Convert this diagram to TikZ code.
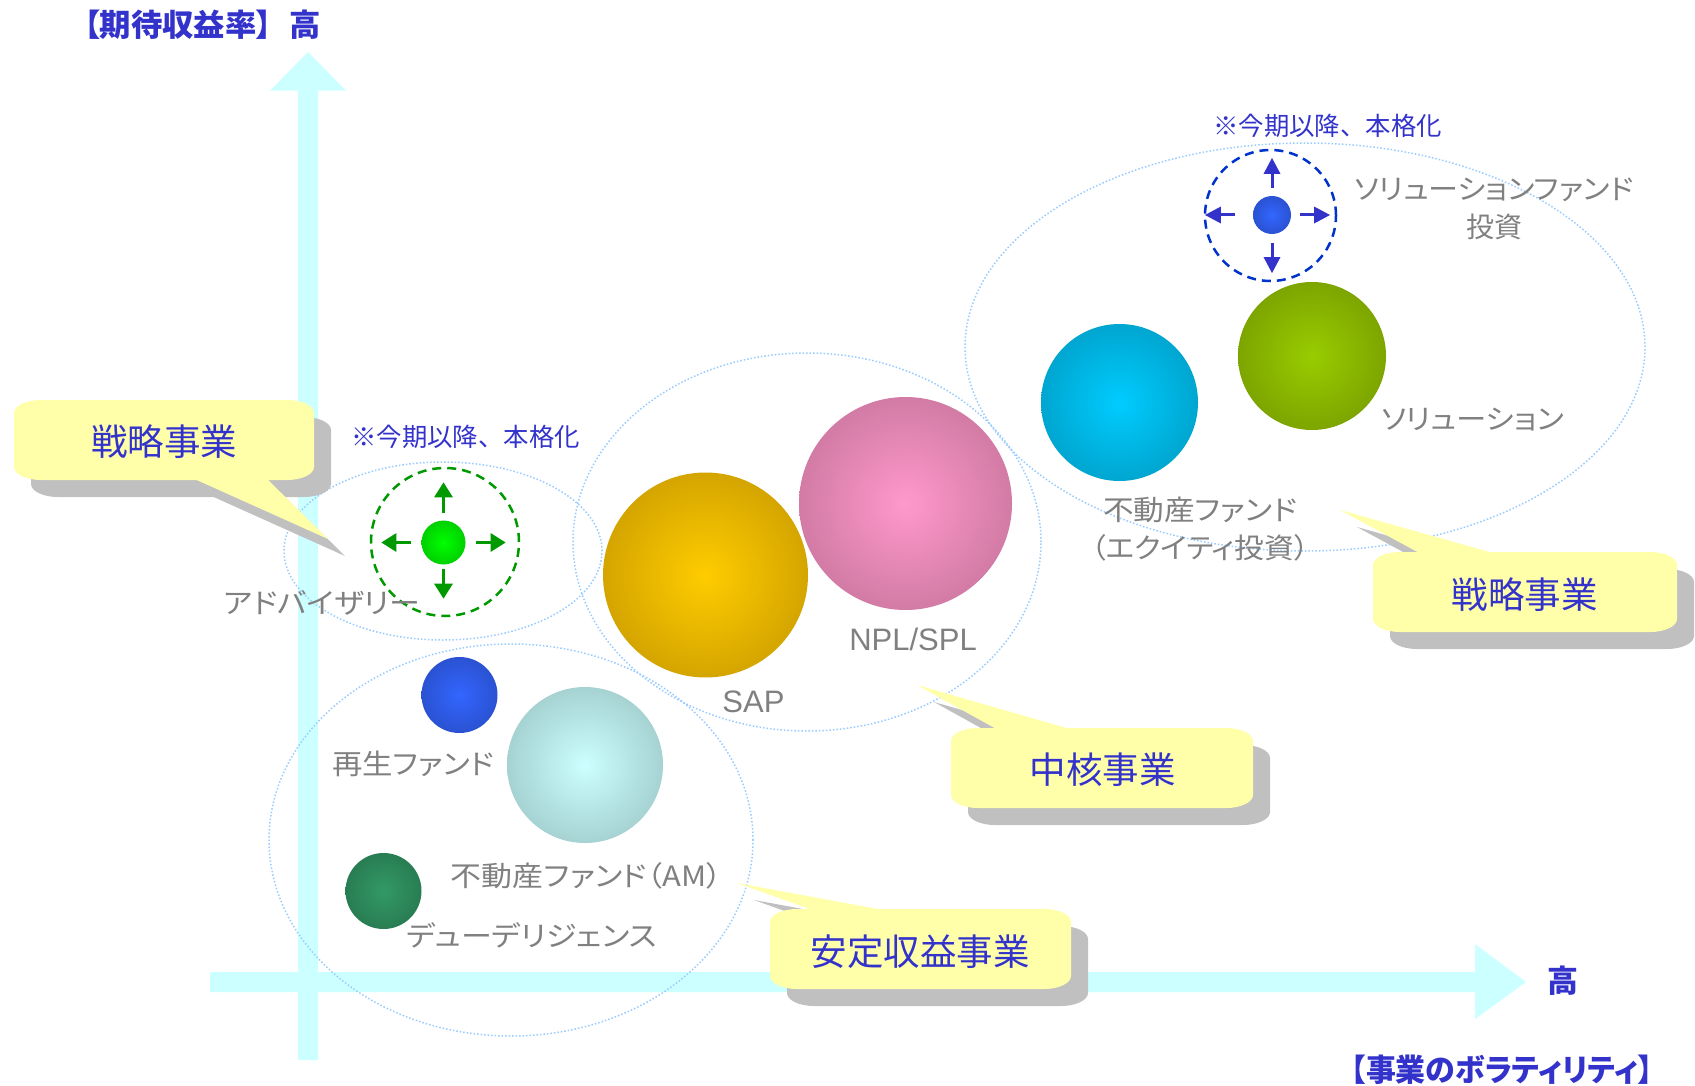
\documentclass[tikz,border=0pt]{standalone}
\usepackage{fontspec}
\usepackage{graphicx}
\usetikzlibrary{arrows.meta}
\newfontfamily\jp{Noto Sans CJK JP}
\newfontfamily\jpp[RawFeature=+palt]{Noto Sans CJK JP}
\newfontfamily\arl{Liberation Sans}
\newcommand\fitto[2]{\resizebox{#1}{\height}{#2}}
\definecolor{axisc}{HTML}{CCFFFF}
\definecolor{dotc}{HTML}{99CCFF}
\definecolor{navy}{HTML}{3333CC}
\definecolor{labgray}{HTML}{808080}
\definecolor{cofill}{HTML}{FFFFAA}
\definecolor{shadowc}{HTML}{C0C0C0}
\definecolor{grn}{HTML}{009900}
\definecolor{dblue}{HTML}{0033CC}
\definecolor{goldin}{HTML}{FFCC00}\definecolor{goldout}{HTML}{D4A500}
\definecolor{pinkin}{HTML}{FF99CC}\definecolor{pinkout}{HTML}{D27BA5}
\definecolor{cyanin}{HTML}{00CCFF}\definecolor{cyanout}{HTML}{00A6D0}
\definecolor{olivein}{HTML}{99CC00}\definecolor{oliveout}{HTML}{7DA500}
\definecolor{palein}{HTML}{CCFFFF}\definecolor{paleout}{HTML}{A6D2D2}
\definecolor{bluein}{HTML}{3366FF}\definecolor{blueout}{HTML}{2A52D2}
\definecolor{dgrnin}{HTML}{339966}\definecolor{dgrnout}{HTML}{287D52}
\definecolor{grnin}{HTML}{00FF00}\definecolor{grnout}{HTML}{00D000}
\newcommand\coshape[8]{%
  \fill[#8] (#1+27,#2) -- (#3-27,#2) arc[start angle=90,end angle=0,x radius=27pt,y radius=13pt]
    -- (#3,#4-13) arc[start angle=0,end angle=-90,x radius=27pt,y radius=13pt]
    -- (#1+27,#4) arc[start angle=-90,end angle=-180,x radius=27pt,y radius=13pt]
    -- (#1,#2+13) arc[start angle=180,end angle=90,x radius=27pt,y radius=13pt] -- cycle;
  \fill[#8] (#5) -- (#7) -- (#6) -- cycle;
}
\newcommand\callout[7]{%
  \begin{scope}[shift={(17,17)}]\coshape{#1}{#2}{#3}{#4}{#5}{#6}{#7}{shadowc}\end{scope}
  \coshape{#1}{#2}{#3}{#4}{#5}{#6}{#7}{cofill}
}
\tikzset{
  dotell/.style={draw=dotc, line width=1.5pt, dash pattern=on 1.5pt off 2pt},
  sphere/.style={circle, inner sep=0pt, draw=none, inner color=#1in, outer color=#1out},
  lab/.style={text=labgray, font=\jpp\fontsize{28}{38}\selectfont, inner sep=0pt, align=center},
  latlab/.style={text=labgray, font=\arl\fontsize{31}{36}\selectfont, inner sep=0pt},
  note/.style={text=navy, font=\jp\fontsize{25.4}{30}\selectfont, inner sep=0pt},
  cotext/.style={text=navy, font=\jp\fontsize{36.5}{40}\selectfont, inner sep=0pt},
  axlab/.style={text=navy, font=\jpp\bfseries\fontsize{31}{36}\selectfont, inner sep=0pt},
  garrow/.style={draw=grn, line width=3pt, -{Triangle[length=15pt,width=18pt,fill=grn]}},
  barrow/.style={draw=navy, line width=3pt, -{Triangle[length=16pt,width=16pt,fill=navy]}},
  ring/.style={circle, draw=#1, line width=2.5pt, dash pattern=on 9pt off 6pt, inner sep=0pt}
}
\begin{document}
\begin{tikzpicture}[x=1pt,y=-1pt]
\useasboundingbox (0,0) rectangle (1695,1086);
\fill[white] (0,0) rectangle (1695,1086);
% axes
\fill[axisc] (298,1060) -- (298,90.7) -- (270,90.7) -- (308,52) -- (346,90.7) -- (318,90.7) -- (318,1060) -- cycle;
\fill[axisc] (210,972) -- (1475,972) -- (1475,944) -- (1526,982) -- (1475,1019) -- (1475,992) -- (210,992) -- cycle;
\node[axlab] (ylab) at (202.5,25) {\fitto{237pt}{【期待収益率】\hspace{17pt}高}};
\node[axlab] (xhigh) at (1562.5,981) {高};
\node[axlab] (xlab) at (1502,1070) {\fitto{302pt}{【事業のボラティリティ】}};
% dotted groups
\draw[dotell] (443,551) ellipse [x radius=159pt, y radius=89pt];
\draw[dotell] (807,542) ellipse [x radius=234pt, y radius=189pt];
\draw[dotell] (1305,347) ellipse [x radius=340pt, y radius=204pt];
\draw[dotell] (511,840) ellipse [x radius=242pt, y radius=196pt];
% spheres
\node[sphere=gold, minimum size=205pt] (sap) at (705.5,575) {};
\node[sphere=pink, minimum size=213pt] (npl) at (905.5,503.5) {};
\node[sphere=cyan, minimum size=157pt] (ref) at (1119.5,402.5) {};
\node[sphere=olive, minimum size=148pt] (sol) at (1312,356) {};
\node[sphere=pale, minimum size=156pt] (ram) at (585,765) {};
\node[sphere=blue, minimum size=76pt] (rev) at (459.5,695) {};
\node[sphere=dgrn, minimum size=76pt] (dd) at (383.5,891) {};
\node[sphere=grn, minimum size=44pt] (adv) at (443.5,542.5) {};
\node[sphere=blue, minimum size=38pt] (sfi) at (1272,215) {};
% rings and arrows
\node[ring=grn, minimum size=148pt] (gring) at (445,542) {};
\node[ring=dblue, minimum size=131pt] (bring) at (1270.5,215.5) {};
\draw[garrow] ([yshift=7pt]adv.north) -- ([yshift=38pt]adv.north);
\draw[garrow] ([yshift=-4pt]adv.south) -- ([yshift=-34pt]adv.south);
\draw[garrow] ([xshift=-10pt]adv.west) -- ([xshift=-40pt]adv.west);
\draw[garrow] ([xshift=10pt]adv.east) -- ([xshift=40pt]adv.east);
\draw[barrow] ([yshift=8pt]sfi.north) -- ([yshift=38pt]sfi.north);
\draw[barrow] ([yshift=-9pt]sfi.south) -- ([yshift=-39pt]sfi.south);
\draw[barrow] ([xshift=-18pt]sfi.west) -- ([xshift=-48pt]sfi.west);
\draw[barrow] ([xshift=9pt]sfi.east) -- ([xshift=39pt]sfi.east);
% notes
\node[note] (note1) at (465.5,437) {※今期以降、本格化};
\node[note] (note2) at (1327.5,126) {※今期以降、本格化};
% labels
\node[lab] (advl) at (322,603) {\fitto{196pt}{アドバイザリー}};
\node[lab] (revl) at (413,764) {\fitto{162pt}{再生ファンド}};
\node[lab] (raml) at (586.5,876) {\fitto{271pt}{不動産ファンド（AM）}};
\node[lab] (ddl) at (531.5,935) {\fitto{251pt}{デューデリジェンス}};
\node[latlab] (sapl) at (753.5,702) {SAP};
\node[latlab] (npll) at (913,639) {NPL/SPL};
\node[lab] (refl) at (1200,529) {\fitto{194pt}{不動産ファンド}\\\fitto{218pt}{（エクイティ投資）}};
\node[lab] (soll) at (1472.5,420) {\fitto{183pt}{ソリューション}};
\node[lab] (sfil) at (1494,208.5) {\fitto{280pt}{ソリューションファンド}\\投資};
% callouts
\callout{14}{400}{314}{480}{190,477}{265,477}{328,539}
\node[cotext] (co1) at (164,442) {戦略事業};
\callout{1373}{552}{1677}{632}{1423,555}{1500,555}{1340,510}
\node[cotext] (co2) at (1524.5,595) {戦略事業};
\callout{951}{728}{1253}{808}{1000,731}{1077,731}{917,685}
\node[cotext] (co3) at (1102.5,770) {中核事業};
\callout{770}{909}{1071}{989}{818,912}{894,912}{737,883}
\node[cotext] (co4) at (920,952) {安定収益事業};
\end{tikzpicture}
\end{document}
